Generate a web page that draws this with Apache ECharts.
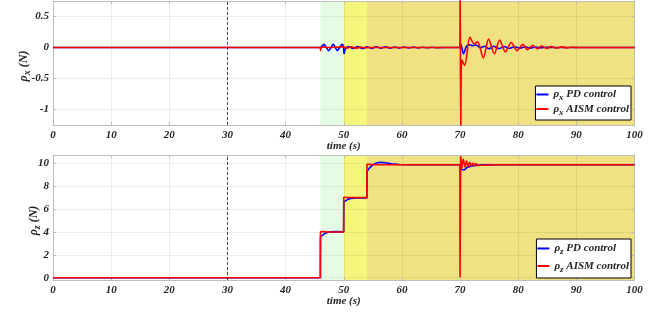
<!DOCTYPE html>
<html>
<head>
<meta charset="utf-8">
<script src="https://cdn.jsdelivr.net/npm/echarts@6/dist/echarts.min.js"></script>
<style>
  html, body { margin: 0; padding: 0; background: #fff; }
  #chart { width: 668px; height: 316px; }
</style>
</head>
<body>
<div id="chart"></div>
<script>
// [time (s), force (N)] samples
const pxPD = [
  [0, 0], [46, 0], [46.2, 0.02], [46.6, 0.05], [47.0, 0], [47.4, -0.05], [47.8, 0], [48.2, 0.05],
  [48.55, 0], [48.9, -0.05], [49.3, 0], [49.7, 0.05], [49.95, 0.02], [50.05, -0.1], [50.3, -0.02],
  [50.8, 0.015], [51.6, -0.015], [52.4, 0.015], [53.2, -0.015], [54.0, 0.01], [54.8, -0.014],
  [55.6, 0.012], [56.4, -0.012], [57.2, 0.01], [58.0, -0.01], [58.8, 0.008], [59.6, -0.008],
  [60.4, 0.007], [61.2, -0.007], [62.0, 0.006], [62.8, -0.006], [63.6, 0.005], [64.4, -0.005],
  [65.2, 0.004], [66.0, -0.004], [67, 0], [70, 0], [70.1, 0.06], [70.6, -0.1], [71.1, 0.02],
  [71.6, 0.045], [72.2, 0.03], [72.8, 0.04], [73.5, -0.005], [74.2, 0.02], [75.0, -0.02],
  [75.8, 0.02], [76.7, -0.02], [77.6, 0.015], [78.5, -0.015], [79.4, 0.012], [80.3, -0.012],
  [81.2, 0.01], [82.1, -0.01], [83.0, 0.008], [83.9, -0.006], [84.8, 0.005], [86, 0], [100, 0]
]
const pxAISM = [
  [0, 0], [45.95, 0], [46.02, -0.05], [46.15, 0], [46.6, 0.01], [47.2, 0], [50, 0.01],
  [50.5, -0.012], [51.3, 0.01], [52.1, -0.01], [52.9, 0.006], [53.7, -0.005], [54.4, 0],
  [69.95, 0], [70.02, 1.0], [70.12, -1.4], [70.3, -0.2], [70.8, -0.29], [71.7, 0.17],
  [72.4, 0.06], [73.0, 0.09], [74.0, -0.17], [74.9, 0.135], [75.9, -0.1], [76.8, 0.12],
  [77.8, -0.07], [78.8, 0.08], [79.8, -0.05], [80.8, 0.05], [81.6, -0.035], [82.5, 0.035],
  [83.3, -0.02], [84.0, 0.025], [84.9, -0.015], [85.7, 0.015], [86.6, -0.01], [87.5, 0.01],
  [88.4, -0.006], [89.3, 0.005], [90, 0], [100, 0]
]
const pzPD = [
  [0, 0], [45.98, 0], [46.0, 3.55], [46.3, 3.72], [46.7, 3.85], [47.2, 3.95], [47.8, 4.0],
  [48.5, 4.02], [49.98, 4.0], [50.0, 6.6], [50.3, 6.72], [50.7, 6.83], [51.3, 6.92], [52, 6.95],
  [53.98, 6.95], [54.0, 9.27], [54.4, 9.55], [54.9, 9.8], [55.5, 9.98], [56.3, 10.06],
  [57.2, 10.02], [58.2, 9.93], [59.5, 9.87], [61, 9.85], [69.98, 9.85], [70.05, 9.7],
  [70.3, 9.41], [70.8, 9.42], [71.2, 9.62], [71.7, 9.7], [72.3, 9.76], [73, 9.81], [74, 9.84],
  [75, 9.85], [100, 9.85]
]
const pzAISM = [
  [0, 0], [45.98, 0], [46.0, 4.0], [46.4, 4.03], [47, 4.0], [49.98, 3.98], [50.0, 7.02],
  [50.3, 7.05], [51, 7.0], [53.98, 6.98], [54.0, 9.9], [54.3, 9.92], [55, 9.86], [69.97, 9.85],
  [70.0, 0.05], [70.1, 10.6], [70.3, 9.56], [70.55, 10.37], [70.85, 9.62], [71.1, 10.2],
  [71.4, 9.68], [71.65, 10.08], [71.95, 9.72], [72.2, 10.0], [72.5, 9.76], [72.75, 9.96],
  [73.05, 9.78], [73.3, 9.93], [73.6, 9.8], [73.85, 9.91], [74.15, 9.81], [74.4, 9.89],
  [74.7, 9.82], [74.95, 9.88], [75.25, 9.83], [75.5, 9.87], [75.8, 9.84], [76.2, 9.85], [100, 9.85]
]

const yTicksX = [-1, -0.5, 0, 0.5]
const yTicksZ = [0, 2, 4, 6, 8, 10]
const phaseEdges = [46, 50, 54, 100] // start of each shaded phase, last = end
const disturbTime = 30

const phaseColors = ['#e4fce4', '#f4f77c', '#f0e183']
const font = { fontFamily: 'Liberation Serif', fontWeight: 'bold', fontStyle: 'italic', color: '#262626' }
const axisGrey = '#bdbdbd'
const gridLine = 'rgba(0,0,0,0.07)'

function subName(sym, sub, rest) {
  return '{g|' + sym + '}{s|' + sub + '}{t|' + rest + '}'
}
const richText = (size) => ({
  g: { ...font, fontSize: size },
  s: { ...font, fontSize: size - 2, padding: [7, 0, 0, 0] },
  t: { ...font, fontSize: size }
})

function xAxes(gi) {
  return [{
    gridIndex: gi, type: 'value', min: 0, max: 100, interval: 10, z: 1.5,
    name: 'time (s)', nameLocation: 'middle', nameGap: 16, nameMoveOverlap: false,
    nameTextStyle: { ...font, fontSize: 11 },
    axisLine: { onZero: false, lineStyle: { color: axisGrey } },
    axisTick: { inside: true, length: 3, lineStyle: { color: axisGrey } },
    axisLabel: { ...font, fontSize: 11, margin: 5 },
    splitLine: { show: true, lineStyle: { color: gridLine } }
  }, {
    gridIndex: gi, type: 'value', min: 0, max: 100, interval: 10, position: 'top', z: 1.5,
    axisLine: { onZero: false, lineStyle: { color: axisGrey } },
    axisTick: { inside: true, length: 3, lineStyle: { color: axisGrey } },
    axisLabel: { show: false }, splitLine: { show: false }
  }]
}
function yAxes(gi, min, max, ticks, sub, gap) {
  return [{
    gridIndex: gi, type: 'value', min: min, max: max, z: 1.5,
    name: subName('ρ', sub, ' (N)'), nameLocation: 'middle', nameGap: gap, nameMoveOverlap: false,
    nameTextStyle: { rich: richText(12), padding: [0, 6, 0, 0] },
    axisLine: { onZero: false, show: true, lineStyle: { color: axisGrey } },
    axisTick: { show: true, inside: true, length: 3, customValues: ticks, lineStyle: { color: axisGrey } },
    axisLabel: { ...font, fontSize: 11, margin: 4, customValues: ticks },
    splitLine: { show: true, lineStyle: { color: gridLine } }
  }, {
    gridIndex: gi, type: 'value', min: min, max: max, position: 'right', z: 1.5,
    axisLine: { onZero: false, show: true, lineStyle: { color: axisGrey } },
    axisTick: { show: true, inside: true, length: 3, customValues: ticks, lineStyle: { color: axisGrey } },
    axisLabel: { show: false }, splitLine: { show: false }
  }]
}

const phaseAreas = phaseColors.map((c, i) => [
  { xAxis: phaseEdges[i], itemStyle: { color: c } }, { xAxis: phaseEdges[i + 1] }
])

function lineSeries(name, data, color, axisIdx, smooth, decorate) {
  const s = {
    name: name, type: 'line', data: data, xAxisIndex: axisIdx, yAxisIndex: axisIdx,
    symbol: 'none', smooth: smooth, lineStyle: { color: color, width: 1.6 }, itemStyle: { color: color },
    clip: true, animation: false
  }
  if (decorate) {
    s.markArea = { silent: true, data: phaseAreas }
    s.markLine = {
      silent: true, symbol: 'none', label: { show: false },
      lineStyle: { color: '#222', width: 0.8, type: [3, 2] },
      data: [{ xAxis: disturbTime }]
    }
  }
  return s
}

function legendAt(top, gap, pad, names) {
  return {
    data: names, orient: 'vertical', right: 37, top: top,
    icon: 'rect', itemWidth: 12, itemHeight: 2, itemGap: gap,
    backgroundColor: '#fff', borderColor: '#000', borderWidth: 1, borderRadius: 0,
    padding: [pad, 2, pad, 1],
    formatter: (n) => subName(n[0], n[1], ' ' + n.slice(3)),
    textStyle: { rich: richText(11) }
  }
}

const chart = echarts.init(document.getElementById('chart'))
chart.setOption({
  animation: false,
  grid: [
    { left: 53, top: 1, width: 581.5, height: 124 },
    { left: 53, top: 155, width: 581.5, height: 125 }
  ],
  xAxis: [...xAxes(0), ...xAxes(1)],
  yAxis: [...yAxes(0, -1.25, 0.75, yTicksX, 'x', 21), ...yAxes(1, -0.2, 10.7, yTicksZ, 'z', 10.5)],
  legend: [
    legendAt(86, 1, 3, ['ρx PD control', 'ρx AISM control']),
    legendAt(239, 4, 4, ['ρz PD control', 'ρz AISM control'])
  ],
  series: [
    lineSeries('ρx PD control', pxPD, '#0000ff', 0, 0.3, true),
    lineSeries('ρx AISM control', pxAISM, '#ff0000', 0, 0.3, false),
    lineSeries('ρz PD control', pzPD, '#0000ff', 2, false, true),
    lineSeries('ρz AISM control', pzAISM, '#ff0000', 2, false, false)
  ]
})
</script>
</body>
</html>
